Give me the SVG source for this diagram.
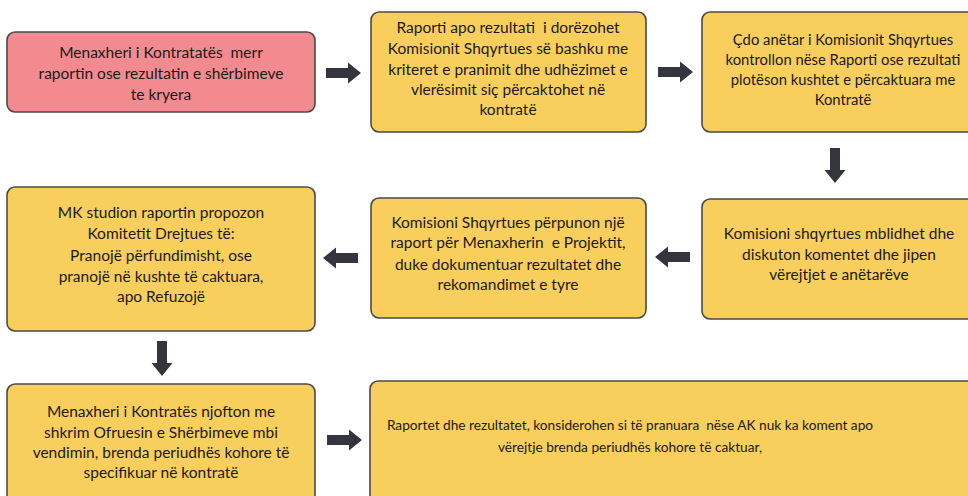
<svg xmlns="http://www.w3.org/2000/svg" width="968" height="496" viewBox="0 0 968 496">
<style>
.box{stroke:#4a4a4a;stroke-width:1.6}
.y{fill:#F8CF5C}
.p{fill:#F28A90}
text{font-family:Lato,"Open Sans","Liberation Sans",sans-serif;font-size:15.5px;fill:#1a1a1a;text-anchor:middle;white-space:pre}
.s{font-size:14.8px}
.xs{font-size:13.7px}
.arr{fill:#35353F}
</style>
<defs>
<path id="ar" d="M0,-5 H22 V-10.5 L35,0 L22,10.5 V5 H0 Z"/>
</defs>
<rect width="968" height="496" fill="#fff"/>
<g id="n1"><rect class="box p" x="7" y="32" width="308" height="80" rx="8"/>
<text x="161" y="58">Menaxheri i Kontratatës  merr</text>
<text x="161" y="79">raportin ose rezultatin e shërbimeve</text>
<text x="161" y="100">te kryera</text></g>
<g id="n2"><rect class="box y" x="371" y="12" width="275" height="120" rx="8"/>
<text x="508" y="33">Raporti apo rezultati  i dorëzohet</text>
<text x="508" y="54">Komisionit Shqyrtues së bashku me</text>
<text x="508" y="75">kriteret e pranimit dhe udhëzimet e</text>
<text x="508" y="95">vlerësimit siç përcaktohet në</text>
<text x="508" y="115">kontratë</text></g>
<g id="n3"><rect class="box y" x="702" y="12" width="275" height="120" rx="8"/>
<text class="s" x="843" y="45">Çdo anëtar i Komisionit Shqyrtues</text>
<text class="s" x="843" y="65">kontrollon nëse Raporti ose rezultati</text>
<text class="s" x="843" y="85">plotëson kushtet e përcaktuara me</text>
<text class="s" x="843" y="105">Kontratë</text></g>
<g id="n4"><rect class="box y" x="702" y="199" width="275" height="120" rx="8"/>
<text x="839" y="239">Komisioni shqyrtues mblidhet dhe</text>
<text x="839" y="260">diskuton komentet dhe jipen</text>
<text x="839" y="280">vërejtjet e anëtarëve</text></g>
<g id="n5"><rect class="box y" x="371" y="198" width="275" height="120" rx="8"/>
<text x="508" y="228">Komisioni Shqyrtues përpunon një</text>
<text x="508" y="248">raport për Menaxherin  e Projektit,</text>
<text x="508" y="270">duke dokumentuar rezultatet dhe</text>
<text x="508" y="290">rekomandimet e tyre</text></g>
<g id="n6"><rect class="box y" x="7" y="187" width="308" height="144" rx="8"/>
<text x="161" y="218">MK studion raportin propozon</text>
<text x="161" y="239">Komitetit Drejtues të:</text>
<text x="161" y="261">Pranojë përfundimisht, ose</text>
<text x="161" y="282">pranojë në kushte të caktuara,</text>
<text x="161" y="302">apo Refuzojë</text></g>
<g id="n7"><rect class="box y" x="7" y="384" width="308" height="130" rx="8"/>
<text x="161" y="417">Menaxheri i Kontratës njofton me</text>
<text x="161" y="438">shkrim Ofruesin e Shërbimeve mbi</text>
<text x="161" y="458">vendimin, brenda periudhës kohore të</text>
<text x="161" y="478">specifikuar në kontratë</text></g>
<g id="n8"><rect class="box y" x="370" y="381" width="610" height="130" rx="8"/>
<text class="xs" x="630" y="430">Raportet dhe rezultatet, konsiderohen si të pranuara  nëse AK nuk ka koment apo</text>
<text class="xs" x="630" y="452">vërejtje brenda periudhës kohore të caktuar,</text></g>
<g id="connectors" class="arr">
<use href="#ar" transform="translate(326,73)"/>
<use href="#ar" transform="translate(658,72)"/>
<use href="#ar" transform="translate(835,148) rotate(90)"/>
<use href="#ar" transform="translate(690,257) rotate(180)"/>
<use href="#ar" transform="translate(358,258) rotate(180)"/>
<use href="#ar" transform="translate(162,341) rotate(90)"/>
<use href="#ar" transform="translate(327,440)"/>
</g>
</svg>
